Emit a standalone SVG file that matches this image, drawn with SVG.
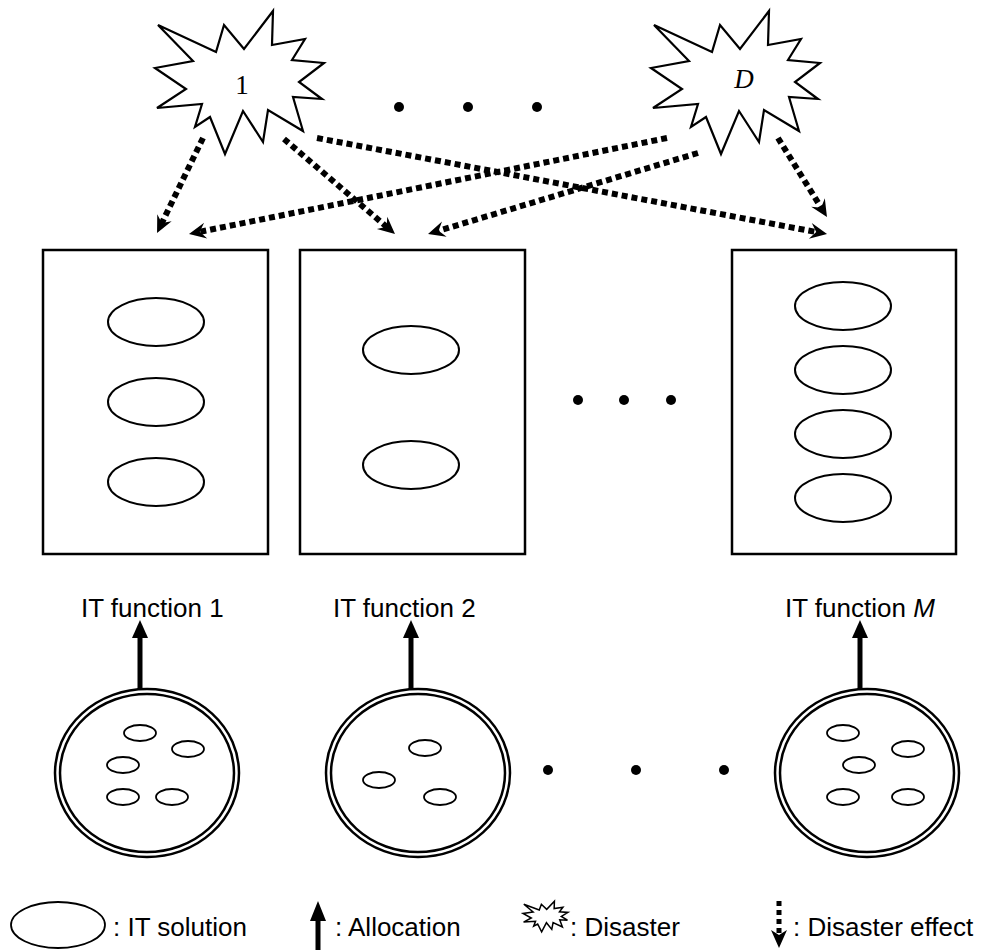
<svg xmlns="http://www.w3.org/2000/svg" xmlns:xlink="http://www.w3.org/1999/xlink" width="989" height="951" viewBox="0 0 989 951">
<style>
.box{fill:#fff;stroke:#000;stroke-width:2.5}
.sol{fill:#fff;stroke:#000;stroke-width:2}
.pool{fill:#fff;stroke:#000;stroke-width:2.5}
.small{fill:none;stroke:#000;stroke-width:1.8}
.eff{fill:none;stroke:#000;stroke-width:6;stroke-dasharray:6 4;marker-end:url(#ah)}
.alloc{fill:none;stroke:#000;stroke-width:5;marker-end:url(#tri)}
.lbl{font-family:"Liberation Sans",Arial,sans-serif;font-size:26px;fill:#000}
.st{font-family:"Liberation Serif","Times New Roman",serif;font-size:27px;fill:#000}
.dot{fill:#000}
</style>
<defs>
<polygon id="star" vector-effect="non-scaling-stroke" points="158,25 216,52 224,25 244,49 273,11 272,45 305,39 292,60 324,63 299,82 322,99 293,97 303,131 268,110 263,142 243,111 225,154 210,117 195,127 202,104 157,108 186,89 155,68 193,61"/>
<marker id="ah" markerUnits="userSpaceOnUse" viewBox="-18 -9 20 18" markerWidth="20" markerHeight="18" refX="-10" refY="0" orient="auto">
<path d="M0,0 L-17,-8 L-11,0 L-17,8 Z" fill="#000"/>
</marker>
<marker id="tri" markerUnits="userSpaceOnUse" viewBox="-20 -10 22 20" markerWidth="22" markerHeight="20" refX="-18" refY="0" orient="auto">
<path d="M0,0 L-18,-8 L-18,8 Z" fill="#000"/>
</marker>
</defs>

<g id="disaster-1">
<use xlink:href="#star" href="#star" fill="#fff" stroke="#000" stroke-width="2.2"/>
<text class="st" x="242" y="94" text-anchor="middle">1</text>
</g>
<g id="disaster-D">
<use xlink:href="#star" href="#star" transform="translate(496,0)" fill="#fff" stroke="#000" stroke-width="2.2"/>
<text class="st" x="744" y="88" text-anchor="middle" font-style="italic">D</text>
</g>
<g id="dots-top">
<circle class="dot" cx="399" cy="107" r="5"/>
<circle class="dot" cx="468" cy="107" r="5"/>
<circle class="dot" cx="537" cy="107" r="5"/>
</g>

<g id="it-function-1">
<rect class="box" x="43" y="250" width="225" height="304"/>
<ellipse class="sol" cx="156" cy="322" rx="48" ry="24"/>
<ellipse class="sol" cx="156" cy="402" rx="48" ry="24"/>
<ellipse class="sol" cx="156" cy="482" rx="48" ry="24"/>
<text class="lbl" x="81" y="617">IT function 1</text>
</g>
<g id="it-function-2">
<rect class="box" x="300" y="250" width="225" height="304"/>
<ellipse class="sol" cx="411" cy="350" rx="48" ry="24"/>
<ellipse class="sol" cx="411" cy="465" rx="48" ry="24"/>
<text class="lbl" x="333" y="617">IT function 2</text>
</g>
<g id="it-function-M">
<rect class="box" x="732" y="250" width="224" height="304"/>
<ellipse class="sol" cx="843" cy="306" rx="48" ry="24"/>
<ellipse class="sol" cx="843" cy="370" rx="48" ry="24"/>
<ellipse class="sol" cx="843" cy="434" rx="48" ry="24"/>
<ellipse class="sol" cx="843" cy="498" rx="48" ry="24"/>
<text class="lbl" x="785" y="617">IT function <tspan font-style="italic">M</tspan></text>
</g>
<g id="dots-mid">
<circle class="dot" cx="578" cy="400" r="5"/>
<circle class="dot" cx="624" cy="400" r="5"/>
<circle class="dot" cx="671" cy="400" r="5"/>
</g>

<g id="pool-1">
<ellipse class="pool" cx="147" cy="773" rx="92" ry="84"/>
<ellipse class="pool" cx="147" cy="773" rx="87" ry="79"/>
<ellipse class="small" cx="140" cy="733" rx="16" ry="8"/>
<ellipse class="small" cx="188" cy="749" rx="16" ry="8"/>
<ellipse class="small" cx="123" cy="765" rx="16" ry="8"/>
<ellipse class="small" cx="123" cy="797" rx="16" ry="8"/>
<ellipse class="small" cx="172" cy="797" rx="16" ry="8"/>
</g>
<g id="pool-2">
<ellipse class="pool" cx="418" cy="773" rx="92" ry="84"/>
<ellipse class="pool" cx="418" cy="773" rx="87" ry="79"/>
<ellipse class="small" cx="425" cy="748" rx="16" ry="8"/>
<ellipse class="small" cx="379" cy="780" rx="16" ry="8"/>
<ellipse class="small" cx="440" cy="797" rx="16" ry="8"/>
</g>
<g id="pool-M">
<ellipse class="pool" cx="867" cy="773" rx="92" ry="84"/>
<ellipse class="pool" cx="867" cy="773" rx="87" ry="79"/>
<ellipse class="small" cx="843" cy="733" rx="16" ry="8"/>
<ellipse class="small" cx="908" cy="749" rx="16" ry="8"/>
<ellipse class="small" cx="859" cy="765" rx="16" ry="8"/>
<ellipse class="small" cx="843" cy="797" rx="16" ry="8"/>
<ellipse class="small" cx="908" cy="797" rx="16" ry="8"/>
</g>
<g id="dots-bottom">
<circle class="dot" cx="548" cy="770" r="5"/>
<circle class="dot" cx="636" cy="770" r="5"/>
<circle class="dot" cx="724" cy="770" r="5"/>
</g>

<g id="connectors">
<line class="eff" x1="203" y1="138" x2="161.4" y2="224"/>
<line class="eff" x1="284" y1="139" x2="387.4" y2="227.5"/>
<line class="eff" x1="317" y1="138" x2="817.2" y2="232.2"/>
<line class="eff" x1="667" y1="138" x2="198.8" y2="232"/>
<line class="eff" x1="698" y1="153" x2="437.6" y2="231.1"/>
<line class="eff" x1="778" y1="138" x2="821.7" y2="208.5"/>
<line class="alloc" x1="140" y1="690" x2="140" y2="638"/>
<line class="alloc" x1="411" y1="690" x2="411" y2="638"/>
<line class="alloc" x1="860" y1="690" x2="860" y2="638"/>
</g>

<g id="legend">
<ellipse cx="58" cy="925" rx="47" ry="23" fill="none" stroke="#000" stroke-width="1.8"/>
<text class="lbl" x="113" y="936">: IT solution</text>
<line x1="318" y1="950" x2="318" y2="920" stroke="#000" stroke-width="5"/>
<path d="M318,901 L310,921 L326,921 Z" fill="#000"/>
<text class="lbl" x="335" y="936">: Allocation</text>
<use xlink:href="#star" href="#star" transform="translate(481.8,898.85) scale(0.266,0.215)" fill="#fff" stroke="#000" stroke-width="1.5"/>
<text class="lbl" x="570" y="936">: Disaster</text>
<line x1="779" y1="901" x2="779" y2="934" stroke="#000" stroke-width="5" stroke-dasharray="5 4"/>
<path d="M779,948 L771,930 L779,935 L787,930 Z" fill="#000"/>
<text class="lbl" x="793" y="936">: Disaster effect</text>
</g>
</svg>
